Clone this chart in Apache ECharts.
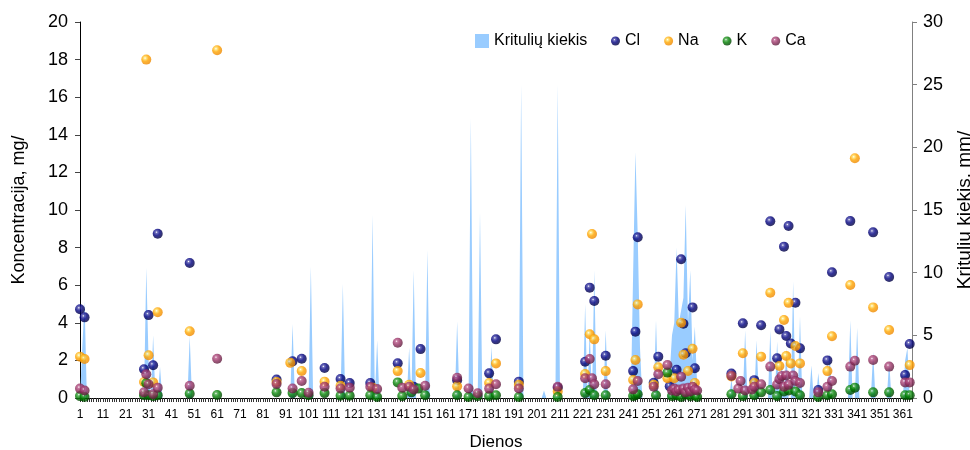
<!DOCTYPE html>
<html>
<head>
<meta charset="utf-8">
<script src="https://cdn.jsdelivr.net/npm/echarts@6/dist/echarts.min.js"></script>
<style>
  html, body { margin: 0; padding: 0; background: #fff; }
  #chart { width: 970px; height: 450px; }
</style>
</head>
<body>
<div id="chart"></div>
<script>
// dienos 1..365
var days = [];
for (var d = 1; d <= 365; d++) days.push(String(d));

// kritulių kiekis, mm (tik lietingos dienos, kitos = 0)
var rainDays = [2, 3, 30, 31, 33, 36, 49, 94, 102, 116, 129, 131, 145, 147, 153, 166, 172, 176, 181, 194, 204, 210,
  222, 224, 226, 231, 243, 244, 245, 246, 253, 259, 260, 261, 262, 263, 264, 265, 266, 267, 268, 269, 270, 271,
  286, 292, 297, 303, 306, 308, 310, 313, 316, 321, 324, 329, 338, 341, 348, 355, 362, 363];
var rainMm = [4, 7.7, 10.4, 3, 5, 2.5, 4.9, 5.9, 10.5, 9.1, 14.6, 4.6, 4, 10.2, 11.8, 6.1, 22.3, 14.8, 4.1, 25, 0.6, 25,
  7.5, 5.4, 10.2, 5.4, 10, 19.6, 13, 4, 6.2, 2, 5, 6, 12, 6, 7, 8, 15.4, 6, 10.2, 3, 5.7, 1,
  1.5, 5.4, 4.6, 5.4, 4.5, 3, 4, 9.3, 6.5, 2.6, 2, 3.6, 6.2, 5.6, 3.7, 3, 3, 4];

// koncentracijos, mg/l  [diena, reikšmė]
var clData = [[1,4.72],[3,4.29],[29,1.53],[31,4.41],[33,1.74],[35,8.74],[49,7.18],[87,0.98],[94,1.95],[98,2.09],
  [108,1.6],[115,1.01],[119,0.8],[128,0.8],[140,1.85],[147,0.6],[150,2.6],[166,0.95],[180,1.31],[183,3.12],
  [193,0.87],[210,0.55],[222,1.93],[224,5.87],[226,5.16],[231,2.25],[243,1.43],[244,3.53],[245,8.55],[252,0.81],
  [254,2.2],[259,0.62],[262,1.5],[264,7.38],[265,3.95],[266,2.38],[269,4.82],[270,1.58],[286,1.3],[291,3.97],
  [296,0.95],[299,3.87],[303,9.4],[306,2.11],[307,3.65],[309,8.05],[310,3.3],[311,9.15],[312,2.9],[314,5.07],
  [316,2.64],[324,0.43],[328,2.0],[330,6.69],[338,9.41],[348,8.81],[355,6.44],[362,1.22],[364,2.87]];
var naData = [[1,2.2],[3,2.07],[29,0.85],[30,18.0],[31,2.27],[33,0.83],[35,4.56],[49,3.55],[61,18.5],[87,0.85],
  [93,1.87],[98,1.44],[108,0.87],[115,0.65],[129,0.55],[140,1.43],[145,0.7],[150,1.33],[166,0.62],[180,0.8],
  [183,1.84],[193,0.7],[210,0.35],[222,1.28],[224,3.39],[225,8.72],[226,3.12],[231,1.43],[243,0.96],[244,2.02],
  [245,4.98],[252,0.7],[254,1.64],[258,1.05],[261,1.05],[264,4.0],[265,2.3],[267,1.44],[269,2.62],[270,0.8],
  [286,1.15],[291,2.38],[296,0.8],[299,2.2],[303,5.6],[307,1.7],[309,4.15],[310,2.23],[311,5.06],[312,1.84],
  [314,2.77],[316,1.84],[328,1.43],[330,3.28],[338,6.01],[340,12.75],[348,4.82],[355,3.62],[364,1.75]];
var kData = [[1,0.1],[3,0.05],[29,0.15],[30,0.78],[31,0.15],[33,0.1],[35,0.14],[49,0.23],[61,0.16],[87,0.3],
  [94,0.26],[98,0.26],[101,0.15],[108,0.26],[115,0.12],[119,0.12],[128,0.15],[131,0.05],[140,0.83],[142,0.1],
  [146,0.3],[149,0.5],[152,0.15],[166,0.15],[171,0.05],[175,0.1],[180,0.1],[183,0.15],[193,0.05],[210,0.05],
  [222,0.26],[224,0.43],[226,0.15],[231,0.15],[243,0.1],[244,0.15],[245,0.2],[253,0.15],[258,1.35],[260,0.1],
  [262,0.15],[264,0.05],[266,0.2],[268,0.1],[270,0.15],[271,0.05],[286,0.2],[291,0.1],[296,0.15],[299,0.3],
  [303,0.43],[306,0.1],[309,0.35],[311,0.4],[314,0.35],[316,0.15],[324,0.05],[328,0.15],[330,0.2],[338,0.43],
  [340,0.55],[348,0.3],[355,0.3],[362,0.15],[364,0.15]];
var caData = [[1,0.5],[3,0.4],[29,0.3],[30,1.26],[31,0.73],[33,0.2],[35,0.55],[49,0.65],[61,2.09],[87,0.74],
  [94,0.51],[98,0.9],[101,0.28],[108,0.6],[115,0.51],[119,0.55],[128,0.6],[131,0.48],[140,2.94],[142,0.55],
  [145,0.6],[147,0.45],[152,0.65],[166,1.08],[171,0.51],[175,0.25],[180,0.5],[183,0.73],[193,0.51],[210,0.6],
  [222,1.05],[224,2.07],[225,1.05],[226,0.73],[231,0.73],[243,0.46],[245,0.9],[252,0.6],[254,1.26],[258,1.76],
  [260,0.4],[261,0.5],[262,0.35],[263,0.45],[264,1.13],[265,0.5],[266,0.3],[267,0.55],[268,0.35],[269,0.6],
  [270,0.45],[271,0.4],[286,1.18],[289,0.5],[290,0.9],[292,0.4],[295,0.45],[296,0.6],[299,0.73],[303,1.67],
  [306,0.72],[307,1.0],[308,1.17],[309,0.6],[310,1.2],[311,0.7],[313,1.2],[314,0.9],[316,0.8],[324,0.3],
  [328,0.6],[330,0.9],[338,1.67],[340,1.98],[348,2.02],[355,1.67],[362,0.83],[364,0.83]];

var FONT = '"Liberation Sans", Arial, sans-serif';

// sausos dienos = 0
var rainSeries = days.map(function () { return 0; });
rainDays.forEach(function (d, i) { rainSeries[d - 1] = rainMm[i]; });

function pts(arr) {
  return arr.map(function (p) { return [String(p[0]), p[1]]; });
}
function ball(light, mid, dark) {
  return {
    type: 'radial', x: 0.38, y: 0.35, r: 0.65,
    colorStops: [
      { offset: 0, color: '#ffffff' },
      { offset: 0.18, color: light },
      { offset: 0.5, color: mid },
      { offset: 1, color: dark }
    ]
  };
}
function scatter(name, data, color) {
  return {
    name: name,
    type: 'scatter',
    yAxisIndex: 0,
    symbolSize: 10,
    data: pts(data),
    itemStyle: { color: color },
    z: 3
  };
}

var myChart = echarts.init(document.getElementById('chart'));

var option = {
  animation: false,
  backgroundColor: '#fff',
  textStyle: { fontFamily: FONT },
  grid: { left: 80, right: 58, top: 22, bottom: 52, outerBoundsMode: 'none' },
  legend: [
    {
      data: ['Kritulių kiekis'],
      left: 475, top: 33, padding: 0,
      icon: 'rect',
      itemWidth: 14, itemHeight: 14, itemGap: 24,
      textStyle: { fontSize: 16, color: '#000', fontFamily: FONT }
    },
    {
      data: ['Cl', 'Na', 'K', 'Ca'],
      left: 611, top: 33, padding: 0,
      icon: 'circle',
      itemWidth: 9, itemHeight: 9, itemGap: 24,
      textStyle: { fontSize: 16, color: '#000', fontFamily: FONT }
    }
  ],
  xAxis: {
    type: 'category',
    data: days,
    boundaryGap: false,
    name: 'Dienos',
    nameLocation: 'middle',
    nameGap: 36,
    nameTextStyle: { fontSize: 17, color: '#000' },
    axisLine: { lineStyle: { color: '#000', width: 1 } },
    axisTick: { interval: 0, length: 4, lineStyle: { color: '#333' } },
    axisLabel: { interval: 9, fontSize: 12, color: '#000', margin: 11 },
    splitLine: { show: false }
  },
  yAxis: [
    {
      type: 'value',
      min: 0, max: 20, interval: 2,
      name: 'Koncentracija, mg/',
      nameLocation: 'middle',
      nameRotate: 90,
      nameGap: 52,
      nameTextStyle: { fontSize: 18, color: '#000' },
      axisLine: { show: true, lineStyle: { color: '#000' } },
      axisTick: { show: true, length: 5, lineStyle: { color: '#444' } },
      axisLabel: { fontSize: 18, color: '#000', margin: 12 },
      splitLine: { show: false }
    },
    {
      type: 'value',
      min: 0, max: 30, interval: 5,
      position: 'right',
      name: 'Kritulių kiekis, mm/',
      nameLocation: 'middle',
      nameRotate: 90,
      nameGap: 43,
      nameTextStyle: { fontSize: 19, color: '#000' },
      axisLine: { show: true, lineStyle: { color: '#808080' } },
      axisTick: { show: true, length: 5, lineStyle: { color: '#808080' } },
      axisLabel: { fontSize: 18, color: '#000', margin: 11 },
      splitLine: { show: false }
    }
  ],
  series: [
    {
      name: 'Kritulių kiekis',
      type: 'line',
      yAxisIndex: 1,
      data: rainSeries,
      symbol: 'none',
      lineStyle: { width: 0 },
      itemStyle: { color: '#99ccff' },
      areaStyle: { color: '#99ccff', opacity: 1 },
      z: 1
    },
    scatter('Cl', clData, ball('#4a4aaa', '#000080', '#000040')),
    scatter('Na', naData, ball('#ffe066', '#ffa500', '#ee8800')),
    scatter('K', kData, ball('#4aaa4a', '#008000', '#004000')),
    scatter('Ca', caData, ball('#bb5c8c', '#993366', '#5e1c3c'))
  ]
};

myChart.setOption(option);
</script>
</body>
</html>
